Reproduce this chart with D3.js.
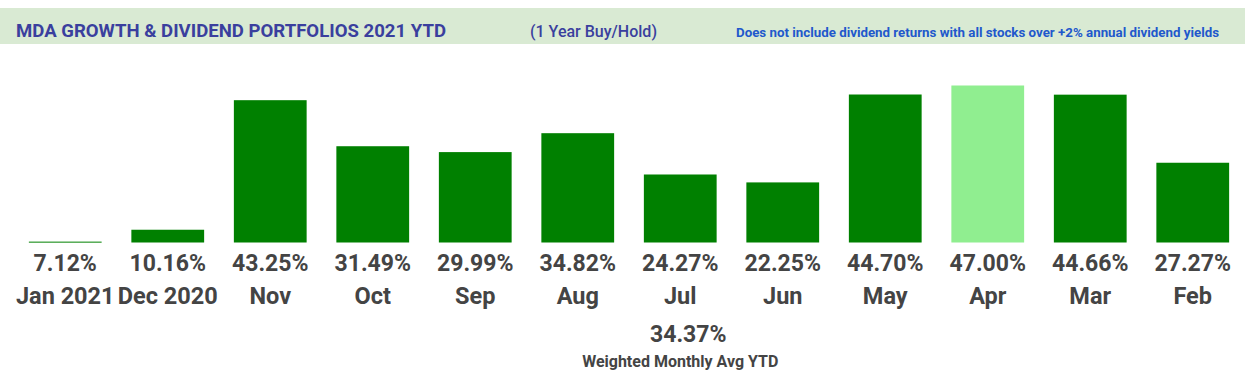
<!DOCTYPE html>
<html>
<head>
<meta charset="utf-8">
<script src="https://cdn.jsdelivr.net/npm/d3@7"></script>
<style>
  body { margin: 0; background: #fff; }
  text { font-family: Roboto, "Noto Sans", sans-serif; }
</style>
</head>
<body>
<div id="chart"></div>
<script>
// chart data
let months = ["Jan 2021", "Dec 2020", "Nov", "Oct", "Sep", "Aug", "Jul", "Jun", "May", "Apr", "Mar", "Feb"]
let returns = [7.12, 10.16, 43.25, 31.49, 29.99, 34.82, 24.27, 22.25, 44.70, 47.00, 44.66, 27.27]
let highlightMonth = "Apr"
let avgValue = 34.37
let avgLabel = "Weighted Monthly Avg YTD"
let titleText = "MDA GROWTH & DIVIDEND PORTFOLIOS 2021 YTD"
let holdText = "(1 Year Buy/Hold)"
let noteText = "Does not include dividend returns with all stocks over +2% annual dividend yields"

let width = 1245, height = 376

let svg = d3.select("#chart").append("svg")
    .attr("width", width)
    .attr("height", height)

// header band
svg.append("rect")
    .attr("x", 0).attr("y", 8)
    .attr("width", width).attr("height", 36)
    .attr("fill", "#d9ead3")

svg.append("text")
    .attr("x", 16).attr("y", 37)
    .attr("font-size", 19).attr("font-weight", "bold")
    .attr("fill", "#3a3f9e")
    .attr("textLength", 430).attr("lengthAdjust", "spacingAndGlyphs")
    .text(titleText)

svg.append("text")
    .attr("x", 530).attr("y", 37)
    .attr("font-size", 16).attr("font-weight", 500)
    .attr("fill", "#3a3f9e")
    .attr("textLength", 127).attr("lengthAdjust", "spacingAndGlyphs")
    .text(holdText)

svg.append("text")
    .attr("x", 736).attr("y", 37)
    .attr("font-size", 12).attr("font-weight", "bold")
    .attr("fill", "#2158cc")
    .attr("textLength", 483).attr("lengthAdjust", "spacingAndGlyphs")
    .text(noteText)

// scales
let x = d3.scaleBand()
    .domain(months)
    .range([14, 1244])
    .paddingInner(0.29)
    .paddingOuter(0.145)

let y = d3.scaleLinear()
    .domain([6.9, 47])
    .range([242.5, 85.5])

let data = months.map(function(m, i) { return { month: m, value: returns[i] } })

svg.append("g").selectAll("rect")
    .data(data)
    .enter()
    .append("rect")
    .attr("x", function(d) { return x(d.month) })
    .attr("y", function(d) { return y(d.value) })
    .attr("width", x.bandwidth())
    .attr("height", function(d) { return Math.max(1, y(6.9) - y(d.value)) })
    .attr("fill", function(d) { return d.month == highlightMonth ? "#90ee90" : "#008000" })

// value labels
svg.append("g").selectAll("text")
    .data(data)
    .enter()
    .append("text")
    .attr("x", function(d) { return x(d.month) + x.bandwidth() / 2 })
    .attr("y", 271)
    .attr("text-anchor", "middle")
    .attr("font-size", 23).attr("font-weight", "bold")
    .attr("fill", "#444")
    .text(function(d) { return d.value.toFixed(2) + "%" })

// month labels
svg.append("g").selectAll("text")
    .data(data)
    .enter()
    .append("text")
    .attr("x", function(d) { return x(d.month) + x.bandwidth() / 2 })
    .attr("y", 304)
    .attr("text-anchor", "middle")
    .attr("font-size", 23.5).attr("font-weight", "bold")
    .attr("fill", "#444")
    .text(function(d) { return d.month })

// weighted average
let avgX = x("Jul") + x.bandwidth() / 2
svg.append("text")
    .attr("x", avgX + 8).attr("y", 342)
    .attr("text-anchor", "middle")
    .attr("font-size", 23).attr("font-weight", "bold")
    .attr("fill", "#444")
    .text(avgValue.toFixed(2) + "%")

svg.append("text")
    .attr("x", avgX).attr("y", 367)
    .attr("text-anchor", "middle")
    .attr("font-size", 16).attr("font-weight", "bold")
    .attr("fill", "#444")
    .text(avgLabel)
</script>
</body>
</html>
